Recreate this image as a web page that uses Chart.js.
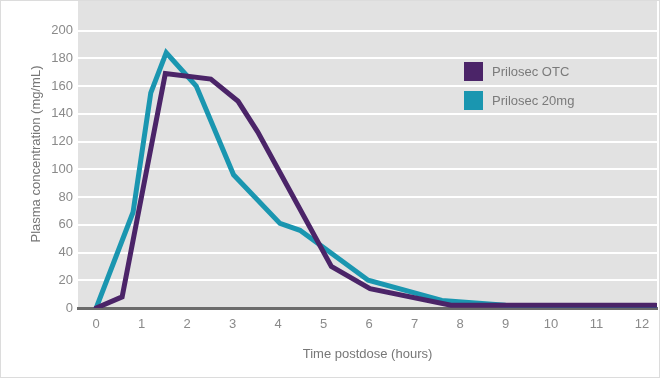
<!DOCTYPE html>
<html>
<head>
<meta charset="utf-8">
<script src="https://cdn.jsdelivr.net/npm/chart.js@4/dist/chart.umd.min.js"></script>
<style>
  html, body { margin: 0; padding: 0; background: #fff; }
  #wrap { position: relative; width: 660px; height: 378px; }
  canvas { display: block; }
  .lg { position: absolute; left: 464px; height: 19px; font: 13px "Liberation Sans", Arial, sans-serif; color: #7a7a7a; line-height: 19px; white-space: nowrap; }
  .lg span.sw { display: inline-block; width: 19px; height: 19px; vertical-align: top; margin-right: 9px; }
</style>
</head>
<body>
<div id="wrap">
  <canvas id="c" width="660" height="378"></canvas>
  <div class="lg" style="top:62px"><span class="sw" style="background:#4b2468"></span>Prilosec OTC</div>
  <div class="lg" style="top:91px"><span class="sw" style="background:#1a96b0"></span>Prilosec 20mg</div>
</div>
<script>
// Data
const seriesNames = ["Prilosec OTC", "Prilosec 20mg"];
const otcTimes   = [0, 0.57, 1.52, 2.52, 3.12, 3.55, 5.17, 6.02, 7.8, 12.3];
const otcValues  = [0, 8, 169, 165, 149, 127, 30, 14, 2, 2];
const rx20Times  = [0, 0.81, 1.2, 1.54, 2.2, 3.02, 4.04, 4.48, 5.98, 7.6, 9, 12.3];
const rx20Values = [0, 69, 155, 184, 160, 96, 61, 56, 20, 5.5, 2, 1.5];
const xTicks = [0, 1, 2, 3, 4, 5, 6, 7, 8, 9, 10, 11, 12];
const yTicks = [0, 20, 40, 60, 80, 100, 120, 140, 160, 180, 200];

const toPoints = (xs, ys) => xs.map((x, i) => ({ x: x, y: ys[i] }));

const bgPlugin = {
  id: 'bg',
  beforeDraw(chart) {
    const { ctx, chartArea } = chart;
    ctx.save();
    ctx.fillStyle = '#ffffff';
    ctx.fillRect(0, 0, chart.width, chart.height);
    ctx.fillStyle = '#e2e2e2';
    ctx.fillRect(chartArea.left, chartArea.top, chartArea.right - chartArea.left, chartArea.bottom - chartArea.top);
    ctx.restore();
  },
  afterDraw(chart) {
    const { ctx } = chart;
    ctx.save();
    ctx.strokeStyle = '#dcdcdc';
    ctx.lineWidth = 1;
    ctx.strokeRect(0.5, 0.5, chart.width - 1, chart.height - 1);
    ctx.restore();
  }
};

const font = { family: '"Liberation Sans", Arial, sans-serif', size: 13 };

new Chart(document.getElementById('c'), {
  type: 'line',
  data: {
    datasets: [
      {
        label: seriesNames[0],
        data: toPoints(otcTimes, otcValues),
        borderColor: '#4b2468',
        backgroundColor: '#4b2468',
        borderWidth: 5,
        pointRadius: 0,
        tension: 0,
        borderCapStyle: 'round',
        borderJoinStyle: 'miter',
        fill: false
      },
      {
        label: seriesNames[1],
        data: toPoints(rx20Times, rx20Values),
        borderColor: '#1a96b0',
        backgroundColor: '#1a96b0',
        borderWidth: 5,
        pointRadius: 0,
        tension: 0,
        borderCapStyle: 'round',
        borderJoinStyle: 'miter',
        fill: false
      }
    ]
  },
  options: {
    responsive: false,
    animation: false,
    devicePixelRatio: 1,
    layout: { padding: { left: 0, right: 3, top: 0, bottom: 0 } },
    plugins: { legend: { display: false }, tooltip: { enabled: false } },
    scales: {
      x: {
        type: 'linear',
        min: -0.4,
        max: 12.33,
        afterBuildTicks: (s) => { s.ticks = xTicks.map(v => ({ value: v })); },
        afterFit: (s) => { s.height = 70; s.paddingLeft = 0; s.paddingRight = 0; },
        grid: { display: false, drawTicks: false },
        border: { display: true, color: '#6b6b6b', width: 3 },
        ticks: { color: '#8a8a8a', font: font, padding: 9, maxRotation: 0, autoSkip: false },
        title: { display: true, text: 'Time postdose (hours)', color: '#777777', font: font, padding: { top: 0, bottom: 16 } }
      },
      y: {
        min: 0,
        max: 222,
        afterBuildTicks: (s) => { s.ticks = yTicks.map(v => ({ value: v })); },
        afterFit: (s) => { s.width = 78; s.paddingTop = 0; s.paddingBottom = 0; },
        grid: {
          drawTicks: false,
          lineWidth: 2,
          color: (c) => (c.tick && c.tick.value === 0) ? 'rgba(0,0,0,0)' : '#ffffff'
        },
        border: { display: false },
        ticks: { color: '#8a8a8a', font: font, padding: 5 },
        title: { display: true, text: 'Plasma concentration (mg/mL)', color: '#777777', font: font, padding: { top: 29, bottom: 0 } }
      }
    }
  },
  plugins: [bgPlugin]
});
</script>
</body>
</html>
